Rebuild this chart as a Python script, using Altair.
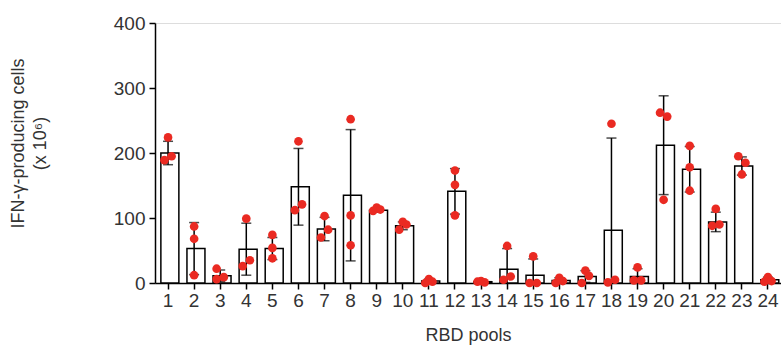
import altair as alt
import pandas as pd

pools = [str(i) for i in range(1, 25)]
means = [200, 53, 11, 52, 53, 148, 83, 135, 112, 88, 3, 141, 2, 21, 12, 4, 10, 81, 10, 212, 175, 94, 180, 5]
sds = [18, 40, 9, 40, 17, 59, 18, 101, 3, 6, 3, 35, 1, 32, 25, 4, 9, 142, 12, 76, 35, 15, 14, 4]

# replicate values (3 per pool) and their lane within the bar
rep_values = [
    [224, 189, 195], [87, 68, 12], [22, 6, 9], [99, 26, 35], [74, 54, 38], [218, 112, 121],
    [103, 70, 82], [252, 104, 58], [111, 116, 113], [82, 94, 90], [6, 0, 2], [173, 151, 104],
    [2, 3, 1], [57, 5, 10], [41, 0, 0], [0, 8, 3], [19, 0, 11], [245, 1, 5],
    [24, 4, 4], [262, 256, 128], [211, 178, 142], [114, 88, 90], [195, 185, 167], [9, 2, 3],
]
rep_lanes = [
    ["C", "L", "R"], ["C", "C", "C"], ["L", "L", "R"], ["C", "L", "R"], ["C", "C", "C"], ["C", "L", "R"],
    ["C", "L", "R"], ["C", "C", "C"], ["L", "C", "R"], ["L", "C", "R"], ["C", "L", "R"], ["C", "C", "C"],
    ["L", "C", "R"], ["C", "L", "R"], ["C", "L", "R"], ["L", "C", "R"], ["C", "L", "R"], ["C", "L", "R"],
    ["C", "L", "R"], ["L", "R", "C"], ["C", "C", "C"], ["C", "L", "R"], ["L", "R", "C"], ["C", "L", "R"],
]

bars = pd.DataFrame({"pool": pools, "mean": means, "sd": sds})
bars["lo"] = bars["mean"] - bars["sd"]
bars["hi"] = bars["mean"] + bars["sd"]

pts = pd.DataFrame(
    [{"pool": p, "value": v, "lane": l}
     for p, vals, lanes in zip(pools, rep_values, rep_lanes)
     for v, l in zip(vals, lanes)]
)

FONT = "Liberation Sans"
TXT = "#333333"

x_enc = alt.X(
    "pool:N",
    sort=pools,
    scale=alt.Scale(paddingInner=0.45, paddingOuter=0.225),
    axis=alt.Axis(
        title="RBD pools", labelAngle=0, labelFontSize=19, labelColor=TXT, labelFont=FONT,
        titleFontSize=18, titleFont=FONT, titleColor=TXT, titleFontWeight="normal",
        titlePadding=16, tickSize=6, tickColor="black", domainColor="black",
        domainWidth=1.5, tickWidth=1.5, labelPadding=2,
    ),
)
y_scale = alt.Scale(domain=[0, 400], nice=False)
y_enc = alt.Y(
    "mean:Q",
    scale=y_scale,
    axis=alt.Axis(
        title=["IFN-γ-producing cells", "(x 10⁶)"], values=[0, 100, 200, 300, 400],
        grid=False, labelFontSize=19, labelColor=TXT, labelFont=FONT,
        titleFontSize=18, titleFont=FONT, titleColor=TXT, titleFontWeight="normal",
        titleAngle=-90, titleAlign="center", titleBaseline="top", titleX=-146, titleY=120,
        titleLineHeight=22, tickSize=6, tickColor="black", domainColor="black",
        domainWidth=1.5, tickWidth=1.5, labelPadding=4,
    ),
)

bar = alt.Chart(bars).mark_bar(fill="white", stroke="black", strokeWidth=1.5).encode(x=x_enc, y=y_enc)
rule = alt.Chart(bars).mark_rule(color="black", strokeWidth=1.5, clip=True).encode(
    x=alt.X("pool:N", sort=pools), y=alt.Y("lo:Q", scale=y_scale), y2="hi:Q"
)
cap_hi = alt.Chart(bars).mark_tick(color="black", size=10, thickness=1.5, clip=True).encode(
    x=alt.X("pool:N", sort=pools), y=alt.Y("hi:Q", scale=y_scale)
)
cap_lo = alt.Chart(bars).mark_tick(color="black", size=10, thickness=1.5, clip=True).encode(
    x=alt.X("pool:N", sort=pools), y=alt.Y("lo:Q", scale=y_scale)
)
points = alt.Chart(pts).mark_circle(color="#ea2a22", opacity=1, size=75).encode(
    x=alt.X("pool:N", sort=pools),
    xOffset=alt.XOffset("lane:N", scale=alt.Scale(domain=["L", "C", "R"], paddingInner=0, paddingOuter=1)),
    y=alt.Y("value:Q", scale=y_scale),
)

chart = alt.layer(bar, rule, cap_hi, cap_lo, points).properties(
    width=626, height=260,
    autosize=alt.AutoSizeParams(type="none"),
    padding={"left": 155, "top": 23, "right": 0, "bottom": 64},
).configure_view(stroke=None).configure(background="white")

chart.save("out.html", embed_options={"renderer": "svg", "actions": False})
